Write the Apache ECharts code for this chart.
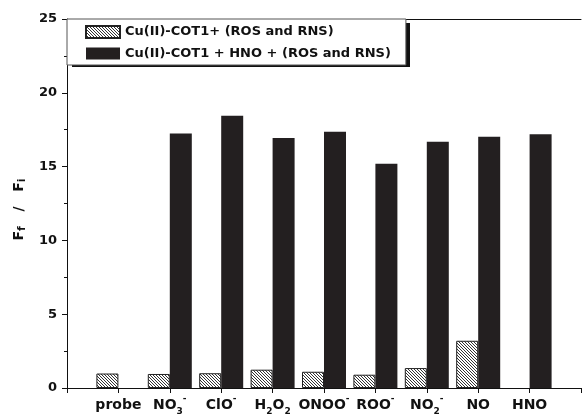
<!DOCTYPE html>
<html><head><meta charset="utf-8">
<script src="https://cdn.jsdelivr.net/npm/echarts@6/dist/echarts.min.js"></script>
<style>html,body{margin:0;padding:0;background:#fff}#c{width:584px;height:416px}</style>
</head><body><div id="c"></div>
<script>
const categories = ['probe','NO3-','ClO-','H2O2','ONOO-','ROO-','NO2-','NO','HNO'];
const categoryLabels = ['probe','NO{sub|3}{sup|-}','ClO{sup|-}','H{sub|2}O{sub|2}','ONOO{sup|-}','ROO{sup|-}','NO{sub|2}{sup|-}','NO','HNO'];
const seriesNames = ['Cu(II)-COT1+ (ROS and RNS)','Cu(II)-COT1 + HNO + (ROS and RNS)'];
const cuCot1Values = [0.98,0.95,1.0,1.24,1.1,0.9,1.35,3.2,null];
const cuCot1HnoValues = [null,17.25,18.45,16.93,17.36,15.2,16.69,17.03,17.2];
const yTicks = [0,5,10,15,20,25];

const FONT = 'DejaVu Sans';
// hatch pattern
const pc = document.createElement('canvas');
pc.width = 3; pc.height = 3;
const pctx = pc.getContext('2d');
pctx.fillStyle = '#fff'; pctx.fillRect(0,0,3,3);
pctx.fillStyle = '#333';
for (let i = 0; i < 3; i++) pctx.fillRect(i, i, 1, 1);

const axisData = [''].concat(categories, ['']);
const labelMap = {};
categories.forEach((c,i)=>{ labelMap[c] = categoryLabels[i]; });
const pad = arr => [null].concat(arr, [null]);

const chart = echarts.init(document.getElementById('c'), null, {renderer:'canvas'});
chart.setOption({
  animation: false,
  backgroundColor: '#fff',
  textStyle: { fontFamily: FONT, fontWeight: 'bold', color: '#111' },
  grid: { left: 67, right: 0, top: 19, bottom: 27, containLabel: false },
  graphic: [{
    type: 'rect', left: 72, top: 23, z: 0, silent: true,
    shape: { width: 338, height: 44 },
    style: { fill: '#111' }
  }],
  legend: {
    left: 67, top: 19, orient: 'vertical', z: 10,
    itemWidth: 34, itemHeight: 12, itemGap: 8,
    padding: [6, 15, 5, 18],
    backgroundColor: '#fff', borderColor: '#555', borderWidth: 1,
    textStyle: { fontFamily: FONT, fontWeight: 'bold', fontSize: 13, color: '#111' },
    icon: 'rect',
    data: seriesNames
  },
  xAxis: [{
    type: 'category', data: axisData, boundaryGap: false,
    axisLine: { lineStyle: { color: '#111', width: 1 } },
    axisTick: { show: true, length: 5, inside: false, lineStyle: { color: '#111' } },
    axisLabel: {
      interval: 0, margin: 6, fontFamily: FONT, fontWeight: 'bold', fontSize: 14, color: '#111',
      lineHeight: 22, verticalAlign: 'top',
      formatter: v => labelMap[v] || '',
      rich: {
        sub: { fontSize: 9, fontWeight: 'bold', fontFamily: FONT, verticalAlign: 'bottom', lineHeight: 14, color: '#111' },
        sup: { fontSize: 9, fontWeight: 'bold', fontFamily: FONT, verticalAlign: 'top', lineHeight: 14, color: '#111' }
      }
    },
    splitLine: { show: false }
  }, {
    type: 'category', data: axisData, boundaryGap: false, position: 'top',
    axisLine: { show: true, lineStyle: { color: '#111', width: 1 } },
    axisTick: { show: false }, axisLabel: { show: false }, splitLine: { show: false }
  }],
  yAxis: {
    type: 'value', min: yTicks[0], max: yTicks[yTicks.length-1], interval: yTicks[1]-yTicks[0],
    axisLine: { show: true, lineStyle: { color: '#111', width: 1 } },
    axisTick: { show: true, length: 5, lineStyle: { color: '#111' } },
    minorTick: { show: true, splitNumber: 2, length: 3, lineStyle: { color: '#111' } },
    splitLine: { show: false },
    axisLabel: { margin: 10, fontFamily: FONT, fontWeight: 'bold', fontSize: 13, color: '#111' },
    name: 'F{s|f}   /   F{s|i}', nameLocation: 'middle', nameRotate: 90, nameGap: 28,
    nameTextStyle: {
      fontFamily: FONT, fontWeight: 'bold', fontSize: 14, color: '#111', lineHeight: 18,
      padding: [0, 12, 0, 0],
      rich: { s: { fontFamily: FONT, fontWeight: 'bold', fontSize: 11, color: '#111', verticalAlign: 'bottom', lineHeight: 6 } }
    }
  },
  series: [{
    name: seriesNames[0], type: 'bar', data: pad(cuCot1Values),
    barWidth: 22, barGap: '0%',
    itemStyle: { color: { image: pc, repeat: 'repeat' }, borderColor: '#222', borderWidth: 1 }
  }, {
    name: seriesNames[1], type: 'bar', data: pad(cuCot1HnoValues),
    barWidth: 22, barGap: '0%',
    itemStyle: { color: '#231f20' }
  }]
});
</script></body></html>
